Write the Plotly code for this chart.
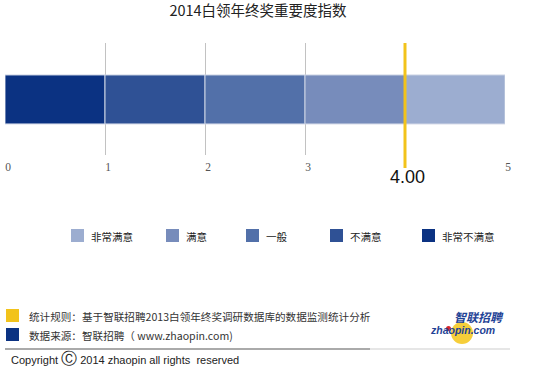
import plotly.graph_objects as go

# ---- data ----
title_text = "2014白领年终奖重要度指数"
categories = ["非常不满意", "不满意", "一般", "满意", "非常满意"]  # from 0 to 5
seg_values = [1, 1, 1, 1, 1]
colors = ["#0B3282", "#2F5195", "#5270A9", "#778CBB", "#9CADD0"]
tick_vals = [0, 1, 2, 3, 5]
tick_text = ["0", "1", "2", "3", "5"]
index_value = 4.00
rule_text = "统计规则：基于智联招聘2013白领年终奖调研数据库的数据监测统计分析"
source_text = "数据来源：智联招聘（ www.zhaopin.com)"
copyright_text = "Copyright <span style='font-size:16px'>Ⓒ</span> 2014 zhaopin all rights  reserved"

W, H = 550, 374
L, R, T, B = 5, 505, 43, 155  # plot area in px


def px(xp):
    return (xp - L) / (R - L)


def py(yp):
    return (B - yp) / (B - T)


CJK = "Noto Sans CJK SC"

fig = go.Figure()
base = 0
for cat, v, c in zip(categories, seg_values, colors):
    fig.add_trace(go.Bar(
        x=[v], base=[base], y=[0.496], width=[0.437], orientation="h",
        marker=dict(color=c, line=dict(color="rgba(205,212,228,1)", width=1)),
        name=cat, showlegend=False, hoverinfo="skip"))
    base += v

shapes = []
annotations = []

# index line
shapes.append(dict(type="line", xref="x", yref="paper", x0=index_value, x1=index_value,
                   y0=py(168), y1=1.0, line=dict(color="#F2C31B", width=3), layer="above"))
annotations.append(dict(x=index_value, xref="x", y=py(177), yref="paper",
                        text=f"{index_value:.2f}", showarrow=False, xanchor="center", yanchor="middle",
                        xshift=2, font=dict(family="Liberation Sans", size=18, color="#111")))

# custom legend (left to right: 非常满意 ... 非常不满意)
leg_x = [71, 166, 246, 330, 422]
for i, cat in enumerate(reversed(categories)):
    col = list(reversed(colors))[i]
    x0 = leg_x[i]
    shapes.append(dict(type="rect", xref="paper", yref="paper", x0=px(x0), x1=px(x0 + 13),
                       y0=py(242), y1=py(229), fillcolor=col, line=dict(width=0)))
    annotations.append(dict(x=px(x0 + 18), xref="paper", y=py(236), yref="paper", text=cat,
                            showarrow=False, xanchor="left", yanchor="middle",
                            font=dict(family=CJK, size=10.5, color="#222")))

# footer
shapes.append(dict(type="rect", xref="paper", yref="paper", x0=px(6), x1=px(19),
                   y0=py(322), y1=py(309), fillcolor="#F2C31B", line=dict(width=0)))
shapes.append(dict(type="rect", xref="paper", yref="paper", x0=px(6), x1=px(19),
                   y0=py(341), y1=py(328), fillcolor="#0B3282", line=dict(width=0)))
annotations.append(dict(x=px(27), xref="paper", y=py(316), yref="paper", text=rule_text,
                        showarrow=False, xanchor="left", yanchor="middle",
                        font=dict(family=CJK, size=10.6, color="#333")))
annotations.append(dict(x=px(27), xref="paper", y=py(335.5), yref="paper", text=source_text,
                        showarrow=False, xanchor="left", yanchor="middle",
                        font=dict(family=CJK, size=10.6, color="#333")))
shapes.append(dict(type="line", xref="paper", yref="paper", x0=px(5), x1=px(370),
                   y0=py(349), y1=py(349), line=dict(color="#AAAAAA", width=2)))
shapes.append(dict(type="line", xref="paper", yref="paper", x0=px(370), x1=px(510),
                   y0=py(349), y1=py(349), line=dict(color="#E6E6E6", width=2)))
annotations.append(dict(x=px(9), xref="paper", y=py(358), yref="paper", text=copyright_text,
                        showarrow=False, xanchor="left", yanchor="middle",
                        font=dict(family="Liberation Sans", size=11, color="#222")))

# logo
shapes.append(dict(type="circle", xref="paper", yref="paper", x0=px(451), x1=px(473),
                   y0=py(344), y1=py(322), fillcolor="#F5C518", line=dict(width=0), opacity=0.85))
shapes.append(dict(type="circle", xref="paper", yref="paper", x0=px(446), x1=px(451),
                   y0=py(331), y1=py(326), fillcolor="#D8252B", line=dict(width=0)))
annotations.append(dict(x=px(479), xref="paper", y=py(316), yref="paper", text="<b><i>智联招聘</i></b>",
                        showarrow=False, xanchor="center", yanchor="middle",
                        font=dict(family=CJK, size=12, color="#1F4396")))
annotations.append(dict(x=px(462), xref="paper", y=py(329.5), yref="paper", text="<b><i>zhaopin.com</i></b>",
                        showarrow=False, xanchor="center", yanchor="middle",
                        font=dict(family="Liberation Sans", size=10.5, color="#1F4396")))

fig.update_layout(
    width=W, height=H,
    margin=dict(l=L, r=W - R, t=T, b=H - B, pad=0),
    paper_bgcolor="white", plot_bgcolor="white",
    barmode="overlay",
    showlegend=False,
    title=dict(text=title_text, x=258 / W, xanchor="center", y=1 - 11 / H, yanchor="middle",
               yref="container", font=dict(family=CJK, size=14.5, color="#222")),
    xaxis=dict(range=[0, 5], tickvals=tick_vals, ticktext=tick_text, showgrid=True,
               gridcolor="#C2C2C2", gridwidth=1, zeroline=False, showline=False, ticks="",
               ticklabelstandoff=3, ticklabelshift=3,
               tickfont=dict(family="Liberation Serif", size=11.5, color="#555"), fixedrange=True),
    yaxis=dict(range=[0, 1], visible=False, fixedrange=True),
    shapes=shapes, annotations=annotations,
)

fig.write_html("out.html", config={"displayModeBar": False},
               post_script="document.body.style.margin='0';")
